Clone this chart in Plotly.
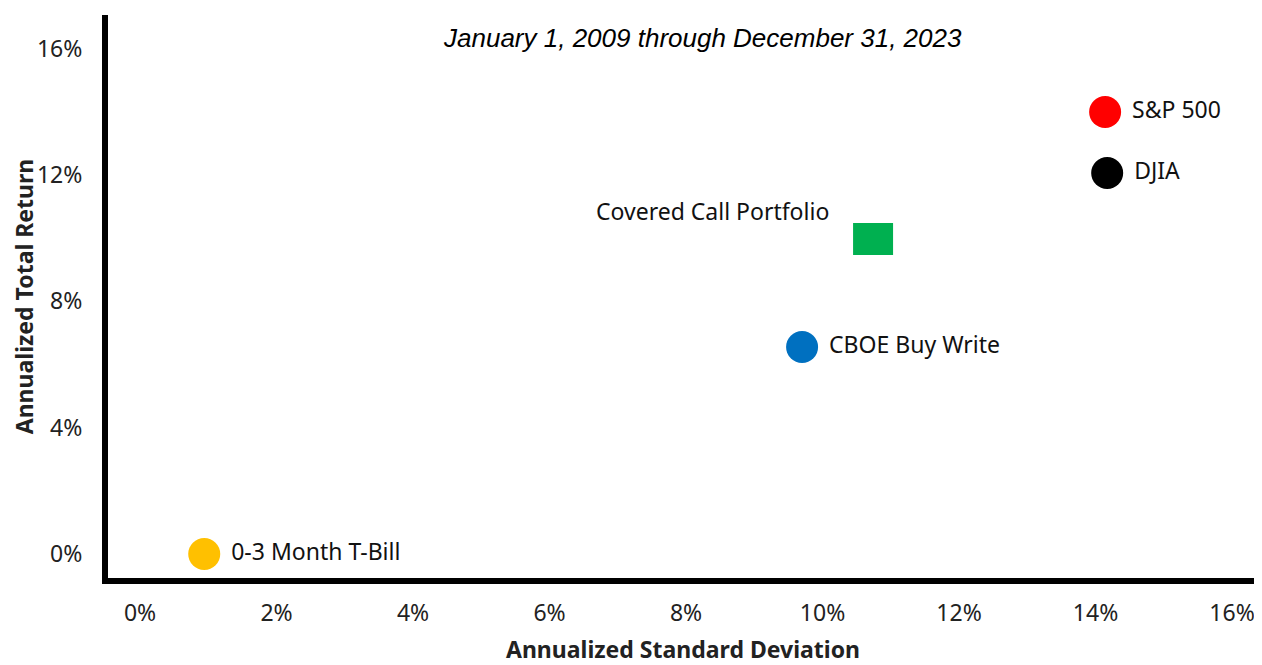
import plotly.graph_objects as go

names = ["S&P 500", "DJIA", "CBOE Buy Write", "0-3 Month T-Bill"]
std_dev = [14.14, 14.17, 9.70, 0.94]
returns = [13.99, 12.06, 6.55, 0.0]
colors = ["#FF0000", "#000000", "#0070C0", "#FFC000"]

cc_name = "Covered Call Portfolio"
cc_std = 10.74
cc_ret = 9.97
cc_color = "#00B050"

x_ticks = [0, 2, 4, 6, 8, 10, 12, 14, 16]
y_ticks = [0, 4, 8, 12, 16]
title_text = "January 1, 2009 through December 31, 2023"

FONT = "Noto Sans, sans-serif"
label_font = dict(family=FONT, size=23, color="#111111")

fig = go.Figure()
fig.add_trace(go.Scatter(
    x=std_dev, y=returns, mode="markers+text",
    text=[" " + n for n in names], textposition="middle right",
    textfont=label_font,
    marker=dict(size=32, color=colors, line=dict(width=0)),
    cliponaxis=False, showlegend=False, hoverinfo="text",
))
# Covered call rectangle marker
fig.add_shape(type="rect", xref="x", yref="y", xsizemode="pixel", ysizemode="pixel",
              xanchor=cc_std, yanchor=cc_ret, x0=-20, x1=20, y0=-16, y1=16,
              fillcolor=cc_color, line=dict(width=0))
fig.add_annotation(x=cc_std, y=cc_ret, xref="x", yref="y", text=cc_name,
                   showarrow=False, xanchor="right", yanchor="middle",
                   xshift=-42, yshift=28, font=label_font)
fig.add_annotation(x=0.5, y=1, xref="paper", yref="paper", text=title_text,
                   showarrow=False, xanchor="center", yanchor="middle",
                   xshift=19, yshift=-23,
                   font=dict(family="Liberation Sans, Arial, sans-serif", size=26,
                             color="#000000", style="italic"))

fig.update_xaxes(range=[-0.47, 16.38], tickvals=x_ticks,
                 ticktext=[f"{v}%" for v in x_ticks],
                 showgrid=False, zeroline=False, showline=True, linewidth=6,
                 linecolor="#000000", ticks="", ticklabelstandoff=9,
                 tickfont=dict(family=FONT, size=23, color="#222222"),
                 title=dict(text="<b>Annualized Standard Deviation</b>",
                            font=dict(family=FONT, size=23, color="#222222"),
                            standoff=21))
fig.update_yaxes(range=[-0.76, 17.06], tickvals=y_ticks,
                 ticktext=[f"{v}%" for v in y_ticks],
                 showgrid=False, zeroline=False, showline=True, linewidth=6,
                 linecolor="#000000", ticks="", ticklabelstandoff=15,
                 tickfont=dict(family=FONT, size=23, color="#222222"),
                 title=dict(text="<b>Annualized Total Return</b>",
                            font=dict(family=FONT, size=23, color="#222222"),
                            standoff=8))
# the page body adds an 8px margin, so the figure is sized to fit inside it
fig.update_layout(width=1254, height=657, plot_bgcolor="white", paper_bgcolor="white",
                  margin=dict(l=100, r=4, t=7, b=87, autoexpand=False))
fig.write_html("out.html")
